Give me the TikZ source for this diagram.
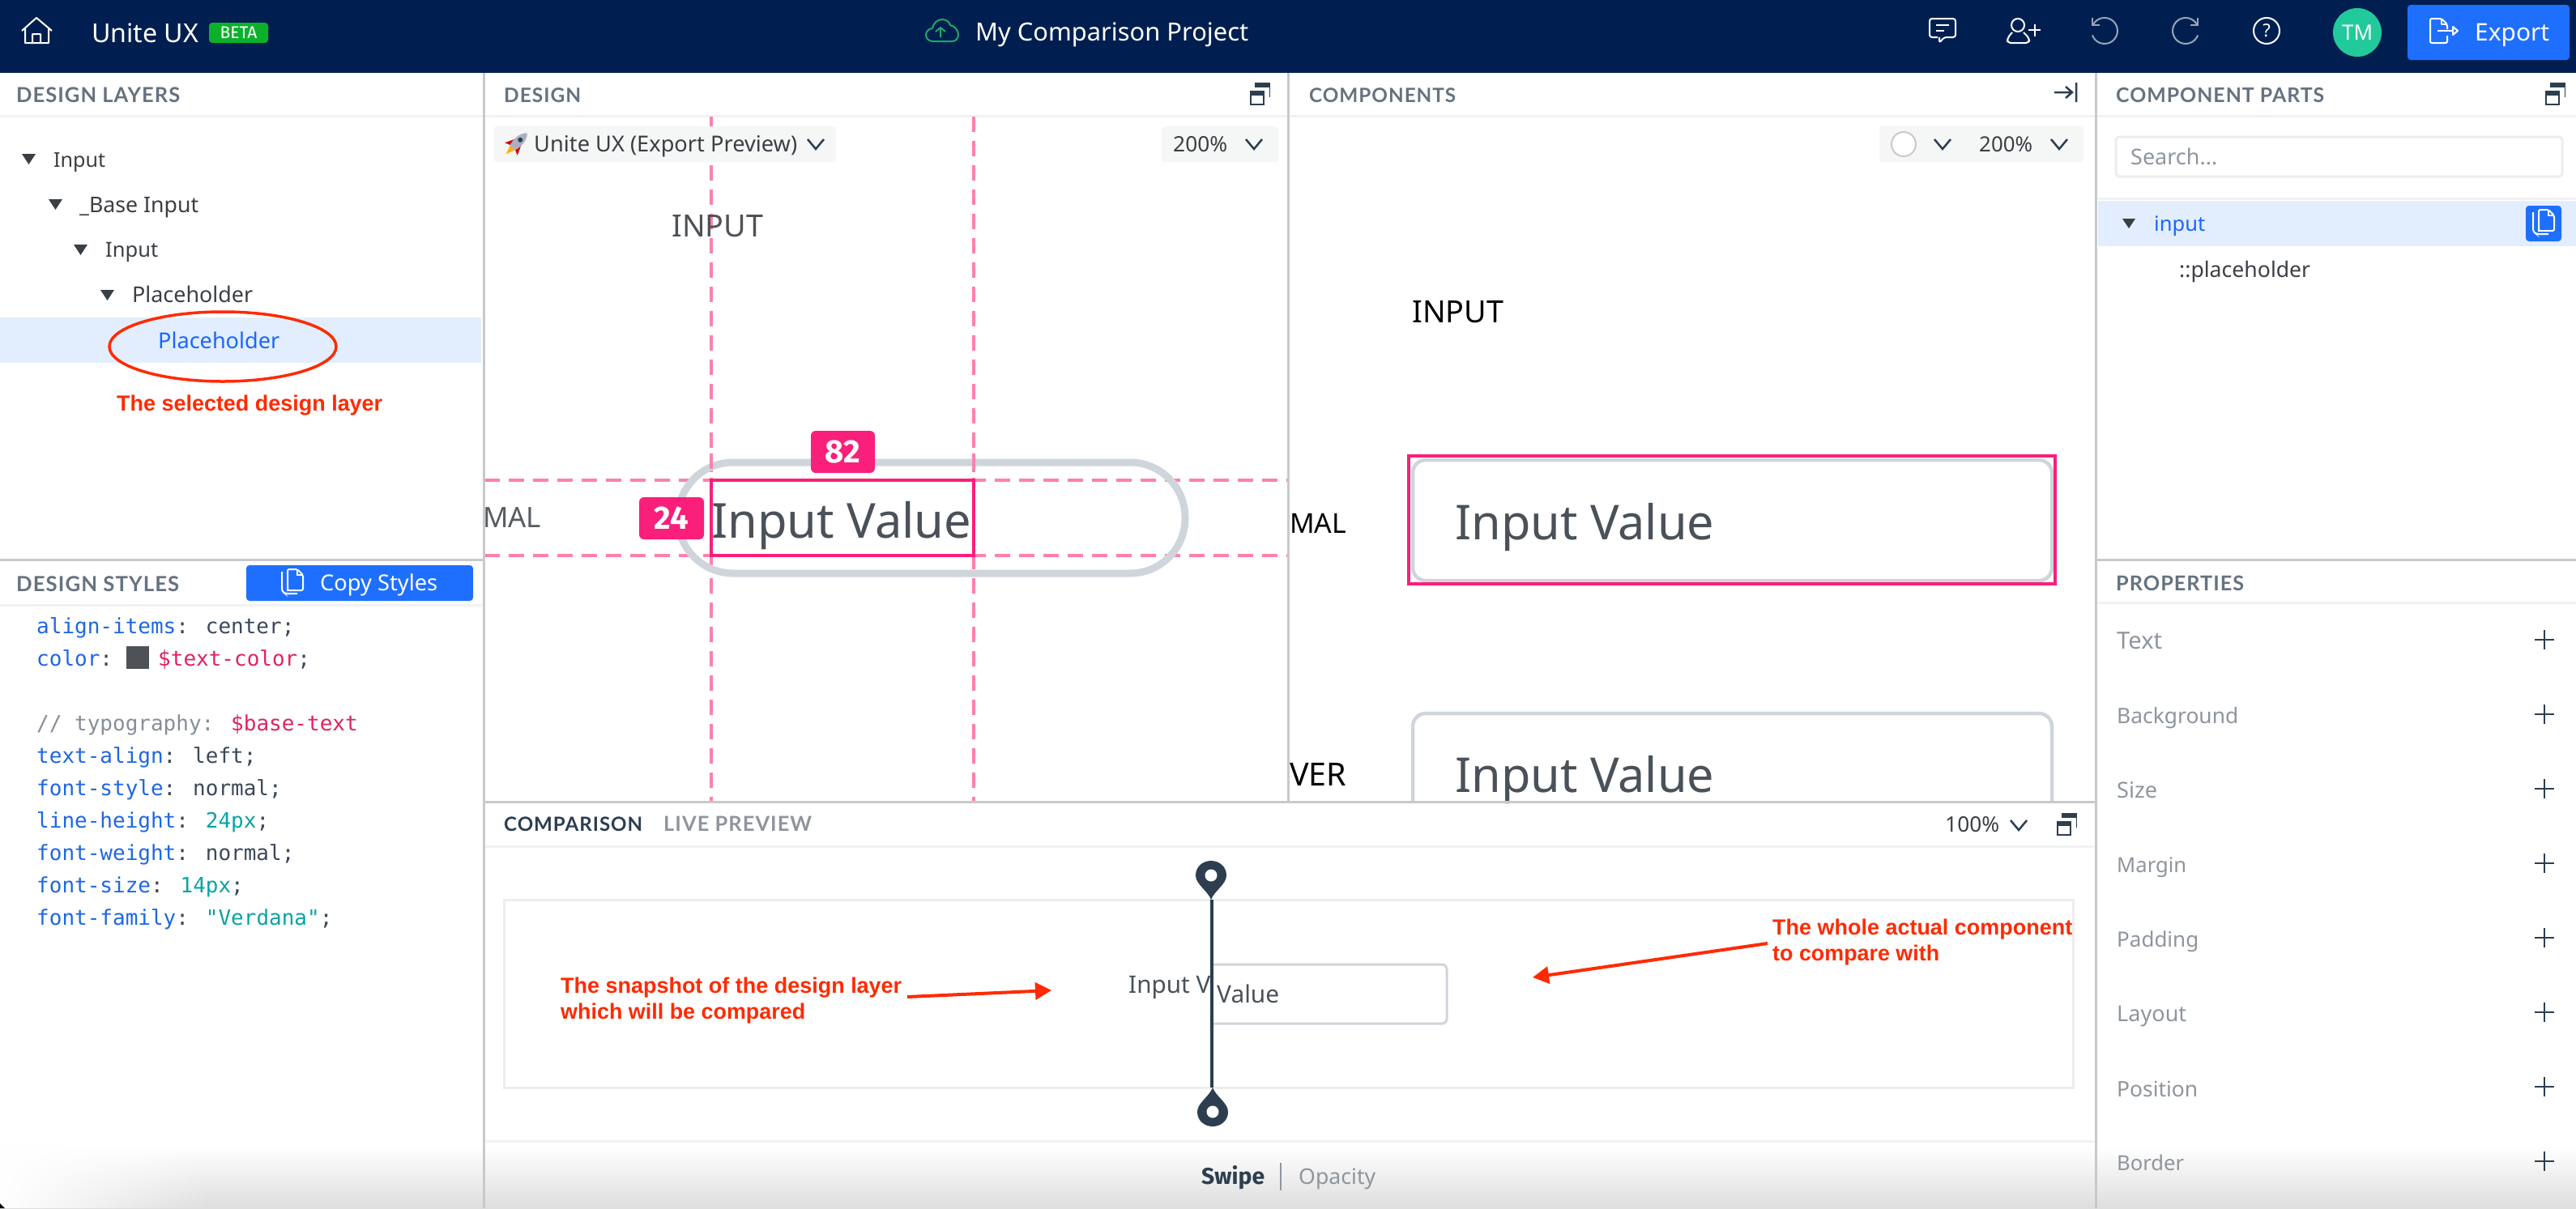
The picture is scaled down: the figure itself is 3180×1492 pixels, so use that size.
\documentclass[tikz,border=0pt]{standalone}
\usepackage{fontspec}
\usepackage{graphicx}
\usetikzlibrary{arrows.meta,fadings}
\setmainfont{Noto Sans}
\newfontfamily\headfont[LetterSpace=4]{Lato}
\newfontfamily\redfont{Liberation Sans}
\newfontfamily\codefont{DejaVu Sans Mono}
\newfontfamily\boldui{Fira Sans}
\definecolor{hdr}{HTML}{001F50}
\definecolor{btn}{HTML}{1F6FFF}
\definecolor{sel}{HTML}{E2EEFD}
\definecolor{ddbg}{HTML}{F5F7F7}
\definecolor{divc}{HTML}{C9C9C9}
\definecolor{sepc}{HTML}{F1F2F3}
\definecolor{headc}{HTML}{66727F}
\definecolor{treec}{HTML}{3A3F44}
\definecolor{bluet}{HTML}{1A66FF}
\definecolor{grayl}{HTML}{8F959D}
\definecolor{darkc}{HTML}{2C3E50}
\definecolor{solidp}{HTML}{FA1F7A}
\definecolor{dashp}{HTML}{FF80AD}
\definecolor{boxc}{HTML}{D0D5DC}
\definecolor{valt}{HTML}{4A5159}
\definecolor{redc}{HTML}{FF2A00}
\definecolor{propc}{HTML}{1F66E5}
\definecolor{numc}{HTML}{0AA3A3}
\definecolor{varc}{HTML}{E0245E}
\definecolor{cmtc}{HTML}{868E99}
\definecolor{valc}{HTML}{3C4858}
\definecolor{avc}{HTML}{22C99B}
\definecolor{betac}{HTML}{0DB02B}
\definecolor{cloudc}{HTML}{1FA866}
\definecolor{softc}{HTML}{EDEDED}
\newcommand\fitw[2]{\resizebox{#1pt}{!}{#2}}
\newcommand\lbl[6][]{\node[txt,#1] (#2) at (#3,#4) {\fitw{#5}{#6}};}
\newcommand\tri[2]{\fill[treec] (#1,#2)--(#1+17,#2)--(#1+8.5,#2+13)--cycle;}
\newcommand\chev[2]{\draw[darkc,line width=2.5pt] (#1-10,#2-6)--(#1,#2+6)--(#1+10,#2-6);}
\newcommand\restoreicon[2]{\begin{scope}[shift={(#1,#2)}]
\fill[darkc] (6,0) rectangle (25,6);
\draw[darkc,line width=1.5pt] (24.3,3)--(24.3,18);
\fill[white] (0,10) rectangle (18,28);
\fill[darkc] (0,10) rectangle (18,16);
\draw[darkc,line width=2pt] (1,11) rectangle (17,27);
\end{scope}}
\newcommand\copyicon[3]{\begin{scope}[shift={(#1,#2)}]
\draw[white,line width=2pt,rounded corners=3pt] (1,4)--(1,28)--(5,31)--(20,31);
\fill[#3] (8,1) rectangle (27,28);
\draw[white,line width=2pt,rounded corners=2pt] (8,26)--(8,1)--(20,1)--(27,8)--(27,27)--(8,27)--cycle;
\draw[white,line width=1.5pt] (20,1)--(20,8)--(27,8);
\end{scope}}
\newcommand\plusicon[2]{\draw[darkc,line width=2.5pt] (#1-12,#2)--(#1+12,#2) (#1,#2-12)--(#1,#2+12);}
\tikzset{
  txt/.style={inner sep=0pt,anchor=base west,font=\fontsize{27}{30}\selectfont,text=treec},
  head/.style={txt,font=\headfont\bfseries\fontsize{25}{30}\selectfont,text=headc},
  code/.style={inner sep=0pt,anchor=base west,font=\codefont\fontsize{26}{30}\selectfont,text=valc},
  redl/.style={txt,font=\redfont\bfseries\fontsize{25}{30}\selectfont,text=redc},
  badge/.style={inner sep=0pt,fill=solidp,rounded corners=6pt,text=white,font=\boldui\bfseries\fontsize{40}{42}\selectfont},
  dashline/.style={dashp,line width=3.5pt,dash pattern=on 19pt off 11pt},
  redarrow/.style={redc,line width=4pt,-{Triangle[length=20pt,width=21pt]}},
  sepl/.style={sepc,line width=3pt},
  divl/.style={divc,line width=3pt},
  hicon/.style={white,line width=2pt,line join=round},
  panelbox/.style={fill=ddbg,rounded corners=3pt}
}
\begin{document}
\begin{tikzpicture}[x=1pt,y=-1pt]
\useasboundingbox (0,0) rectangle (3180,1492);
\fill[white] (0,0) rectangle (3180,1492);
% bottom shadow
\shade[top color=white,bottom color=white!87!black] (0,1415) rectangle (3180,1492);
\fill[white,path fading=east] (0,1410) rectangle (260,1492);
\fill[black] (0,1486) -- (6,1492) -- (0,1492) -- cycle;
% header
\fill[hdr] (0,0) rectangle (3180,90);
\draw[hicon] (27,38)--(45,22)--(64,38) (31,35)--(31,53)--(60,53)--(60,35) (40,53)--(40,42)--(50,42)--(50,53);
\lbl[text=white]{brand}{113}{52}{132}{Unite UX}
\node[fill=betac,rounded corners=4pt,minimum width=73pt,minimum height=25pt,inner sep=0pt,text=white,font=\boldui\fontsize{21}{23}\selectfont] (beta) at (294.5,40.5) {BETA};
% cloud
\draw[cloudc,line width=2pt,line join=round] (1152,51) .. controls (1146,51) and (1143,47) .. (1143,43) .. controls (1143,39) and (1147,35) .. (1151,35) .. controls (1152,28) and (1158,24) .. (1163,24) .. controls (1168,24) and (1172,27) .. (1173,31) .. controls (1179,32) and (1183,38) .. (1183,43) .. controls (1183,47) and (1180,51) .. (1176,51) -- cycle;
\draw[cloudc,line width=2pt] (1161,46)--(1161,34) (1155,39)--(1161,34)--(1167,39);
\lbl[text=white]{title}{1204}{50}{337}{My Comparison Project}
% right header icons
\draw[hicon,rounded corners=3pt] (2392,46)--(2382,46)--(2382,23)--(2414,23)--(2414,46)--(2400,46)--(2394,53)--(2394,46);
\draw[hicon] (2390,31)--(2406,31) (2390,38)--(2400,38);
\draw[hicon] (2491,31) circle[radius=8];
\draw[hicon,rounded corners=4pt] (2484,40)--(2478,47)--(2478,53)--(2505,53)--(2505,47)--(2498,40);
\draw[hicon] (2504,37)--(2519,37) (2511.5,30)--(2511.5,45);
\draw[color=white!60!hdr,line width=2pt] (2584.1,30) arc[start angle=-150,end angle=160,radius=16];
\draw[color=white!60!hdr,line width=2pt] (2583,22)--(2583,31)--(2592,31);
\draw[color=white!60!hdr,line width=2pt] (2711.9,30) arc[start angle=-30,end angle=-340,radius=16];
\draw[color=white!60!hdr,line width=2pt] (2713,22)--(2713,31)--(2704,31);
\draw[hicon] (2798,38) circle[radius=16];
\node[inner sep=0pt,text=white,font=\fontsize{22}{24}\selectfont] (helpq) at (2798,38) {?};
\node[circle,fill=avc,minimum size=60pt,inner sep=0pt] (avatar) at (2910,40) {};
\lbl[text=white]{tm}{2891}{49}{38}{TM}
\fill[btn,rounded corners=4pt] (2972,6) rectangle (3172,74);
\draw[hicon,rounded corners=2pt] (3021,36)--(3021,30)--(3014,23)--(3000,23)--(3000,53)--(3021,53)--(3021,44);
\draw[hicon] (3014,23)--(3014,30)--(3021,30) (3009,38)--(3028,38);
\draw[hicon] (3028,33)--(3034,38)--(3028,43)--cycle;
\lbl[text=white]{export}{3055}{50}{92}{Export}
% selected rows
\fill[sel] (0,392) rectangle (594,448);
\fill[sel] (2590,248) rectangle (3180,304);
% horizontal lines
\draw[sepl] (0,143)--(3180,143);
\draw[divl] (0,691)--(596,691);
\draw[sepl] (0,747)--(596,747);
\draw[divl] (2588,691)--(3180,691);
\draw[sepl] (2588,744)--(3180,744);
\draw[sepl] (2588,245)--(3180,245);
\draw[sepl] (598,1045)--(2587,1045);
\draw[sepl] (598,1409)--(2587,1409);
% design layers
\lbl[head]{hlayers}{20}{126}{202}{DESIGN LAYERS}
\tri{27}{190}\lbl{t1}{66}{206}{64}{Input}
\tri{60}{246}\lbl{t2}{98}{262}{147}{\_Base Input}
\tri{91}{302}\lbl{t3}{130}{317}{65}{Input}
\tri{124}{358}\lbl{t4}{163}{373}{149}{Placeholder}
\lbl[text=bluet]{t5}{195}{430}{150}{Placeholder}
\draw[redc,line width=3.5pt] (275,428) ellipse[x radius=140,y radius=43];
\lbl[redl]{selnote}{144}{507}{328}{The selected design layer}
% design styles
\lbl[head]{hstyles}{20}{730}{201}{DESIGN STYLES}
\fill[btn,rounded corners=4pt] (304,698) rectangle (584,742);
\copyicon{347}{702}{btn}
\lbl[text=white]{copytxt}{395}{729}{145}{Copy Styles}
\node[code] (c1) at (45,782) {\textcolor{propc}{align-items}: center;};
\node[code] (c2) at (45,822) {\textcolor{propc}{color}:};
\fill[treec!90!white] (156,798) rectangle (184,826);
\node[code,text=varc] (c2b) at (195,822) {\$text-color\textcolor{valc}{;}};
\node[code,text=cmtc] (c3) at (45,902) {// typography: \textcolor{varc}{\$base-text}};
\node[code] (c4) at (45,942) {\textcolor{propc}{text-align}: left;};
\node[code] (c5) at (45,982) {\textcolor{propc}{font-style}: normal;};
\node[code] (c6) at (45,1022) {\textcolor{propc}{line-height}: \textcolor{numc}{24px};};
\node[code] (c7) at (45,1062) {\textcolor{propc}{font-weight}: normal;};
\node[code] (c8) at (45,1102) {\textcolor{propc}{font-size}: \textcolor{numc}{14px};};
\node[code] (c9) at (45,1142) {\textcolor{propc}{font-family}: \textcolor{numc}{"Verdana"};};
% design panel
\lbl[head]{hdesign}{622}{126}{95}{DESIGN}
\restoreicon{1543}{102}
\draw[dashline] (878,144)--(878,989);
\draw[dashline] (1202,144)--(1202,989);
\fill[panelbox] (610,156) rectangle (1032,200);
% rocket
\begin{scope}[shift={(638,177)},rotate=-45]
\fill[orange!60!yellow] (-4,8) -- (0,19) -- (4,8) -- cycle;
\fill[red!85!black] (-11,10) -- (-5,-3) -- (-4,7) -- cycle;
\fill[red!85!black] (11,10) -- (5,-3) -- (4,7) -- cycle;
\fill[blue!15!gray!55!white] (0,-18) .. controls (7,-12) and (7,2) .. (4,8) -- (-4,8) .. controls (-7,2) and (-7,-12) .. (0,-18) -- cycle;
\fill[darkc] (0,-6) circle[radius=3];
\end{scope}
\lbl{ddtxt}{659}{187}{325}{Unite UX (Export Preview)}
\chev{1007}{178}
\fill[panelbox] (1434,156) rectangle (1578,200);
\lbl{zoom1}{1448}{187}{67}{200\%}
\chev{1548}{178}
\lbl[text=treec!90!white]{dinput}{829}{292}{113}{INPUT}
\draw[dashline] (598,593)--(1590,593);
\draw[dashline] (598,686)--(1590,686);
\draw[boxc,line width=9pt,rounded corners=68pt] (837,571) rectangle (1463,708);
\draw[dashline] (878,560)--(878,592);
\draw[dashline] (1202,560)--(1202,592);
\draw[solidp,line width=4pt] (878,593) rectangle (1202,686);
\lbl[text=valt]{dval}{878}{664}{321}{Input Value}
\lbl[text=treec!85!white]{dmal}{596}{651}{72}{MAL}
\node[badge,minimum width=79pt,minimum height=52pt] (b82) at (1040.5,558) {82};
\node[badge,minimum width=80pt,minimum height=52pt] (b24) at (829,640) {24};
% components panel
\lbl[head]{hcomps}{1616}{126}{181}{COMPONENTS}
\draw[darkc,line width=2.5pt] (2536,114)--(2557,114) (2550,107)--(2558,114)--(2550,121) (2563,102)--(2563,126);
\fill[panelbox] (2320,156) rectangle (2572,200);
\draw[divc,line width=2pt,fill=white] (2350,178) circle[radius=15];
\chev{2398}{178}
\lbl{zoom2}{2443}{187}{66}{200\%}
\chev{2542}{178}
\lbl[text=black]{cinput}{1743}{398}{113}{INPUT}
\lbl[text=black]{cmal}{1592}{658}{70}{MAL}
\lbl[text=black]{cver}{1592}{970}{70}{VER}
\draw[boxc,line width=4.5pt,rounded corners=16pt] (1744,568) rectangle (2533,717);
\draw[solidp,line width=4pt] (1739,563) rectangle (2537,721);
\lbl[text=valt]{cval}{1796}{666}{320}{Input Value}
\draw[boxc,line width=4.5pt,rounded corners=16pt] (1744,989)--(1744,881)--(2533,881)--(2533,989);
\lbl[text=valt]{cval2}{1796}{978}{320}{Input Value}
% component parts
\lbl[head]{hparts}{2612}{126}{257}{COMPONENT PARTS}
\restoreicon{3142}{102}
\draw[softc,line width=3pt,fill=white,rounded corners=4pt] (2612,169) rectangle (3163,218);
\lbl[text=grayl]{search}{2630}{203}{107}{Search...}
\fill[treec] (2620,270)--(2636,270)--(2628,282)--cycle;
\lbl[text=bluet]{pinput}{2659}{285}{63}{input}
\fill[btn,rounded corners=4pt] (3118,254) rectangle (3162,298);
\copyicon{3126}{258}{btn}
\lbl{pholder}{2690}{342}{162}{::placeholder}
% properties
\lbl[head]{hprops}{2612}{729}{158}{PROPERTIES}
\lbl[text=grayl]{pr1}{2613}{801}{56}{Text}
\lbl[text=grayl]{pr2}{2613}{893}{150}{Background}
\lbl[text=grayl]{pr3}{2613}{985}{50}{Size}
\lbl[text=grayl]{pr4}{2613}{1077}{86}{Margin}
\lbl[text=grayl]{pr5}{2613}{1169}{101}{Padding}
\lbl[text=grayl]{pr6}{2613}{1261}{86}{Layout}
\lbl[text=grayl]{pr7}{2613}{1354}{100}{Position}
\lbl[text=grayl]{pr8}{2613}{1445}{83}{Border}
\plusicon{3141}{790}\plusicon{3141}{882}\plusicon{3141}{974}\plusicon{3141}{1066}
\plusicon{3141}{1158}\plusicon{3141}{1250}\plusicon{3141}{1342}\plusicon{3141}{1434}
% comparison
\draw[divl] (598,990)--(2587,990);
\lbl[head,text=darkc]{hcomp}{622}{1026}{171}{COMPARISON}
\lbl[head,text=grayl]{hlive}{819}{1026}{183}{LIVE PREVIEW}
\lbl{zoom3}{2401}{1027}{67}{100\%}
\chev{2492}{1019}
\restoreicon{2539}{1004}
\draw[softc,line width=3pt] (622,1111) rectangle (2559,1343);
\begin{scope}
\clip (1380,1180) rectangle (1493,1260);
\lbl[text=valt]{snap}{1393}{1226}{160}{Input Value}
\end{scope}
\draw[boxc,line width=3pt,rounded corners=6pt] (1496,1191)--(1786,1191)--(1786,1264)--(1496,1264);
\begin{scope}
\clip (1498,1195) rectangle (1782,1260);
\lbl[text=valt]{actual}{1502}{1238}{77}{Value}
\end{scope}
\coordinate (handleT) at (1496,1111);
\coordinate (handleB) at (1496,1343);
\draw[darkc,line width=4pt] (handleT)--(handleB);
\fill[darkc] (1495,1111) .. controls (1491,1100) and (1476,1092) .. (1476,1081) .. controls (1476,1070) and (1485,1063) .. (1495,1063) .. controls (1505,1063) and (1514,1070) .. (1514,1081) .. controls (1514,1092) and (1499,1100) .. (1495,1111) -- cycle;
\fill[white] (1495,1081) circle[radius=7.5];
\fill[darkc] (1497,1343) .. controls (1493,1354) and (1478,1362) .. (1478,1373) .. controls (1478,1384) and (1487,1391) .. (1497,1391) .. controls (1507,1391) and (1516,1384) .. (1516,1373) .. controls (1516,1362) and (1501,1354) .. (1497,1343) -- cycle;
\fill[white] (1497,1373) circle[radius=7.5];
% annotations
\lbl[redl]{note1a}{692}{1226}{421}{The snapshot of the design layer}
\lbl[redl]{note1b}{692}{1258}{302}{which will be compared}
\lbl[redl]{note2a}{2188}{1154}{370}{The whole actual component}
\lbl[redl]{note2b}{2188}{1186}{206}{to compare with}
\coordinate (ar1s) at (1120,1231);
\coordinate (ar1e) at (1298,1223);
\coordinate (ar2s) at (2182,1165);
\coordinate (ar2e) at (1892,1207);
\draw[redarrow] (ar1s)--(ar1e);
\draw[redarrow] (ar2s)--(ar2e);
% footer
\lbl[font=\boldui\bfseries\fontsize{27}{30}\selectfont,text=darkc]{swipe}{1483}{1462}{78}{Swipe}
\draw[color=grayl,line width=1.5pt] (1581,1436)--(1581,1470);
\lbl[text=grayl]{opacity}{1603}{1462}{95}{Opacity}
% vertical dividers
\draw[divl] (597,90)--(597,1492);
\draw[divl] (1590,90)--(1590,990);
\draw[divl] (2587,90)--(2587,1492);
\end{tikzpicture}
\end{document}
